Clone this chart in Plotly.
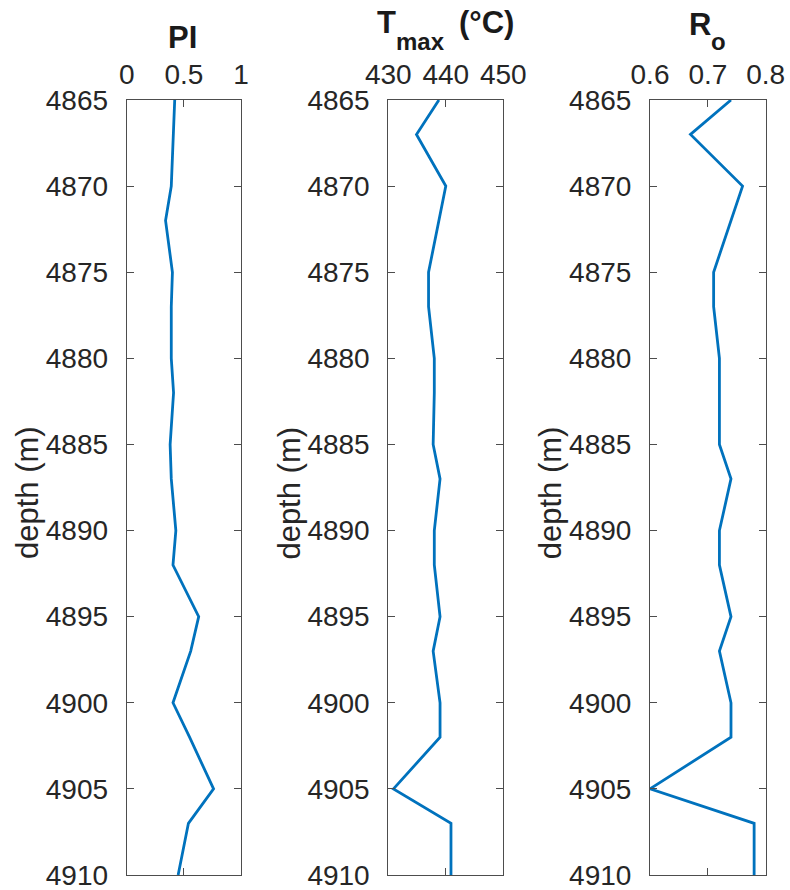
import plotly.graph_objects as go

depth = [4865, 4867, 4870, 4872, 4875, 4877, 4880, 4882, 4885, 4887,
         4890, 4892, 4895, 4897, 4900, 4902, 4905, 4907, 4910]
pi_vals = [0.42, 0.41, 0.39, 0.34, 0.40, 0.39, 0.39, 0.41, 0.38, 0.39,
           0.43, 0.405, 0.63, 0.56, 0.405, 0.55, 0.76, 0.54, 0.45]
tmax_vals = [438.8, 434.9, 440.0, 438.8, 437.0, 437.0, 438.0, 438.0, 437.8, 439.0,
             438.0, 438.0, 439.0, 437.8, 439.0, 439.0, 430.9, 440.9, 440.9]
ro_vals = [0.74, 0.67, 0.76, 0.74, 0.71, 0.71, 0.72, 0.72, 0.72, 0.74,
           0.72, 0.72, 0.74, 0.72, 0.74, 0.74, 0.60, 0.78, 0.78]

x_ranges = [[0, 1], [430, 450], [0.6, 0.8]]
x_ticks = [[0, 0.5, 1], [430, 440, 450], [0.6, 0.7, 0.8]]
x_ticktext = [["0", "0.5", "1"], ["430", "440", "450"], ["0.6", "0.7", "0.8"]]
y_ticks = [4865, 4870, 4875, 4880, 4885, 4890, 4895, 4900, 4905, 4910]
y_title = "depth (m)"

# title pieces: (text, left x px, bottom offset above plot top px, font size)
title_parts = [
    ("<b>PI</b>", 168.0, 45.5, 31),
    ("<b>T</b>", 377.0, 60.0, 31),
    ("<b>max</b>", 396.0, 45.5, 24),
    ("<b>(°C)</b>", 459.0, 60.0, 31),
    ("<b>R</b>", 689.0, 58.0, 31),
    ("<b>o</b>", 711.0, 45.5, 24),
]

W, H = 790, 890
PLOT_TOP, PLOT_BOTTOM = 100, 875
PLOT_H = PLOT_BOTTOM - PLOT_TOP
domains_px = [(126.7, 241.0), (388.3, 503.3), (650.0, 765.7)]
ytitle_x_px = [27.0, 288.6, 550.3]
ytitle_y_px = 493.0
FONT = "Liberation Sans, Arial, Helvetica, sans-serif"
TXT = "#262626"
AX = "#4d4d4d"
LINE = "#0072BD"

fig = go.Figure()
series = [pi_vals, tmax_vals, ro_vals]
for i, vals in enumerate(series):
    sfx = "" if i == 0 else str(i + 1)
    fig.add_trace(go.Scatter(x=vals, y=depth, mode="lines",
                             line=dict(color=LINE, width=2.8),
                             xaxis="x" + sfx, yaxis="y" + sfx,
                             showlegend=False))

layout = dict(
    width=W, height=H,
    margin=dict(l=0, r=0, t=PLOT_TOP, b=H - PLOT_BOTTOM),
    paper_bgcolor="white", plot_bgcolor="white",
    template="none",
    font=dict(family=FONT, size=28, color=TXT),
    showlegend=False,
)
annotations = []
for i in range(3):
    sfx = "" if i == 0 else str(i + 1)
    x0, x1 = domains_px[i]
    layout["xaxis" + sfx] = dict(
        domain=[x0 / W, x1 / W], range=x_ranges[i], side="top",
        anchor="y" + sfx,
        tickmode="array", tickvals=x_ticks[i], ticktext=x_ticktext[i],
        ticks="inside", ticklen=7, tickwidth=1, tickcolor=AX,
        showline=True, linecolor=AX, linewidth=1, mirror="ticks",
        showgrid=False, zeroline=False, automargin=False,
        tickfont=dict(family=FONT, size=28, color=TXT),
        ticklabelstandoff=4, ticklabeloverflow="allow",
    )
    layout["yaxis" + sfx] = dict(
        domain=[0, 1], range=[4910, 4865], anchor="x" + sfx,
        tickmode="array", tickvals=y_ticks,
        ticks="inside", ticklen=7, tickwidth=1, tickcolor=AX,
        showline=True, linecolor=AX, linewidth=1, mirror="ticks",
        showgrid=False, zeroline=False, automargin=False,
        tickfont=dict(family=FONT, size=28, color=TXT),
        ticklabelstandoff=12, ticklabeloverflow="allow",
    )
    annotations.append(dict(
        text=y_title, xref="paper", yref="paper", textangle=-90,
        x=ytitle_x_px[i] / W, y=(PLOT_BOTTOM - ytitle_y_px) / PLOT_H,
        xanchor="center", yanchor="middle", showarrow=False,
        borderpad=0, borderwidth=0,
        font=dict(family=FONT, size=31, color=TXT),
    ))
for text, xl, above, fs in title_parts:
    annotations.append(dict(
        text=text, xref="paper", yref="paper",
        x=xl / W, y=1 + above / PLOT_H, xanchor="left", yanchor="bottom",
        showarrow=False, borderpad=0, borderwidth=0,
        font=dict(family=FONT, size=fs, color="#1a1a1a"),
    ))
layout["annotations"] = annotations
fig.update_layout(**layout)

fig.write_html("out.html")
